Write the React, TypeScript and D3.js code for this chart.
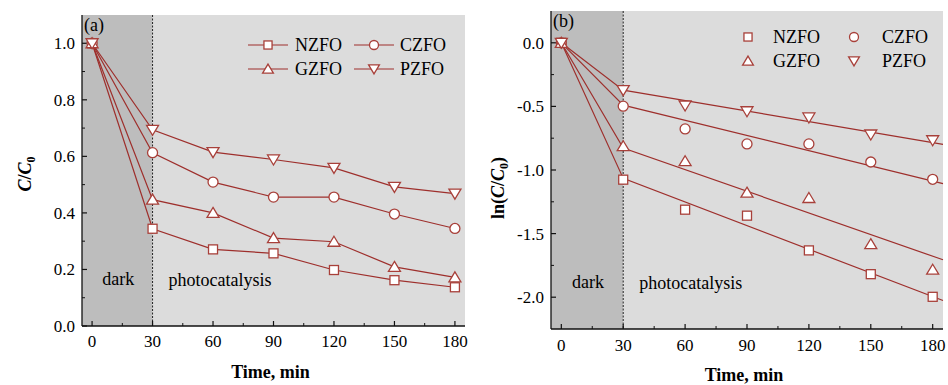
import React, { useEffect, useRef } from 'react';
import * as d3 from 'd3';

// Sampling times (min)
const times = [0, 30, 60, 90, 120, 150, 180];
const seriesNames = ['NZFO', 'CZFO', 'GZFO', 'PZFO'];
const symbols = ['square', 'circle', 'triUp', 'triDown'];

// Panel (a): C/C0
const nzfoC = [1.0, 0.344, 0.271, 0.257, 0.198, 0.162, 0.137];
const czfoC = [1.0, 0.613, 0.509, 0.456, 0.456, 0.396, 0.345];
const gzfoC = [1.0, 0.447, 0.400, 0.311, 0.298, 0.209, 0.172];
const pzfoC = [1.0, 0.694, 0.615, 0.589, 0.559, 0.492, 0.468];

// Panel (b): ln(C/C0)
const nzfoLn = [0, -1.076, -1.312, -1.359, -1.632, -1.819, -1.997];
const czfoLn = [0, -0.498, -0.677, -0.795, -0.795, -0.937, -1.073];
const gzfoLn = [0, -0.813, -0.931, -1.178, -1.220, -1.583, -1.784];
const pzfoLn = [0, -0.372, -0.493, -0.538, -0.587, -0.721, -0.766];

// Linear fit lines in panel (b): value at 30 min and at 185 min
const fitX = [30, 185];
const nzfoFit = [-1.066, -2.026];
const czfoFit = [-0.490, -1.107];
const gzfoFit = [-0.827, -1.706];
const pzfoFit = [-0.372, -0.798];

const xTicks = [0, 30, 60, 90, 120, 150, 180];
const xMinor = [15, 45, 75, 105, 135, 165];
const yTicksA = [0, 0.2, 0.4, 0.6, 0.8, 1.0];
const yMinorA = [0.1, 0.3, 0.5, 0.7, 0.9];
const yTicksB = [-2.0, -1.5, -1.0, -0.5, 0.0];
const yMinorB = [-1.75, -1.25, -0.75, -0.25];

const RED = '#9e2f2c';
const MARK = '#a8403a';
const FONT = '"Liberation Serif", "Times New Roman", serif';

const fmt1 = (v: number) => d3.format('.1f')(v).replace('\u2212', '-');

const drawSymbol = (g: any, kind: string, x: number, y: number, s = 1) => {
  const common = (el: any) => el.attr('fill', 'white').attr('stroke', MARK).attr('stroke-width', 1.3);
  if (kind === 'square') {
    common(g.append('rect').attr('x', x - 4.5 * s).attr('y', y - 4.5 * s).attr('width', 9 * s).attr('height', 9 * s));
  } else if (kind === 'circle') {
    common(g.append('circle').attr('cx', x).attr('cy', y).attr('r', 5 * s));
  } else if (kind === 'triUp') {
    common(g.append('path').attr('d', `M${x},${y - 5.5 * s}L${x + 6 * s},${y + 4.5 * s}L${x - 6 * s},${y + 4.5 * s}Z`));
  } else {
    common(g.append('path').attr('d', `M${x},${y + 5.5 * s}L${x + 6 * s},${y - 4.5 * s}L${x - 6 * s},${y - 4.5 * s}Z`));
  }
};

const App = () => {
  const ref = useRef<SVGSVGElement>(null);

  useEffect(() => {
    const svg = d3.select(ref.current);
    svg.selectAll('*').remove();

    const panels = [
      {
        label: '(a)', left: 82, right: 465, top: 15, bottom: 326,
        yDomain: [0, 1.1], yTicks: yTicksA, yMinor: yMinorA,
        data: [nzfoC, czfoC, gzfoC, pzfoC], fits: null as number[][] | null,
        ylabel: 'a', ylabelX: 31, ylabelY: 174, xTitleY: 378, tickY: 347,
        legend: { rows: [45, 69], cols: [268, 374], texts: [295, 400], lines: true },
      },
      {
        label: '(b)', left: 551, right: 943, top: 11, bottom: 329,
        yDomain: [-2.25, 0.25], yTicks: yTicksB, yMinor: yMinorB,
        data: [nzfoLn, czfoLn, gzfoLn, pzfoLn], fits: [nzfoFit, czfoFit, gzfoFit, pzfoFit],
        ylabel: 'b', ylabelX: 504, ylabelY: 188, xTitleY: 381, tickY: 351,
        legend: { rows: [37, 61], cols: [748, 854], texts: [773, 882], lines: false },
      },
    ];

    panels.forEach(p => {
      const x = d3.scaleLinear().domain([-5, 185]).range([p.left, p.right]);
      const y = d3.scaleLinear().domain(p.yDomain).range([p.bottom, p.top]);
      const g = svg.append('g').attr('font-family', FONT);

      // shaded backgrounds
      g.append('rect').attr('x', x(-5)).attr('y', p.top).attr('width', x(30) - x(-5))
        .attr('height', p.bottom - p.top).attr('fill', '#bdbdbd');
      g.append('rect').attr('x', x(30)).attr('y', p.top).attr('width', x(185) - x(30))
        .attr('height', p.bottom - p.top).attr('fill', '#dcdcdc');
      g.append('line').attr('x1', x(30)).attr('x2', x(30)).attr('y1', p.top).attr('y2', p.bottom)
        .attr('stroke', '#222').attr('stroke-width', 1).attr('stroke-dasharray', '2,1.5');

      // region labels
      g.append('text').attr('x', (x(-5) + x(30)) / 2 + 1).attr('y', p.bottom - 41)
        .attr('text-anchor', 'middle').attr('font-size', 18).text('dark');
      g.append('text').attr('x', x(30) + 16).attr('y', p.bottom - 40)
        .attr('font-size', 18).text('photocatalysis');

      // axes lines
      g.append('line').attr('x1', p.left).attr('x2', p.right).attr('y1', p.bottom).attr('y2', p.bottom)
        .attr('stroke', '#111').attr('stroke-width', 1.3);
      g.append('line').attr('x1', p.left).attr('x2', p.left).attr('y1', p.top).attr('y2', p.bottom)
        .attr('stroke', '#111').attr('stroke-width', 1.3);

      // x ticks (inward)
      xTicks.forEach(t => {
        g.append('line').attr('x1', x(t)).attr('x2', x(t)).attr('y1', p.bottom).attr('y2', p.bottom - 5)
          .attr('stroke', '#111').attr('stroke-width', 1.2);
        g.append('text').attr('x', x(t)).attr('y', p.tickY).attr('text-anchor', 'middle')
          .attr('font-size', 17).text(t);
      });
      xMinor.forEach(t => {
        g.append('line').attr('x1', x(t)).attr('x2', x(t)).attr('y1', p.bottom).attr('y2', p.bottom - 3)
          .attr('stroke', '#111').attr('stroke-width', 1);
      });

      // y ticks (inward)
      p.yTicks.forEach(t => {
        g.append('line').attr('x1', p.left).attr('x2', p.left + 5).attr('y1', y(t)).attr('y2', y(t))
          .attr('stroke', '#111').attr('stroke-width', 1.2);
        g.append('text').attr('x', p.left - 7).attr('y', y(t)).attr('dy', '0.35em').attr('text-anchor', 'end')
          .attr('font-size', 17).text(fmt1(t));
      });
      p.yMinor.forEach(t => {
        g.append('line').attr('x1', p.left).attr('x2', p.left + 3).attr('y1', y(t)).attr('y2', y(t))
          .attr('stroke', '#111').attr('stroke-width', 1);
      });

      // panel label
      g.append('text').attr('x', p.left + 2).attr('y', p.top + 16)
        .attr('font-size', 18).text(p.label);

      // axis titles
      g.append('text').attr('x', (p.left + p.right) / 2 - 3).attr('y', p.xTitleY).attr('text-anchor', 'middle')
        .attr('font-size', 18).attr('font-weight', 'bold').text('Time, min');

      const yl = g.append('text').attr('transform', `translate(${p.ylabelX},${p.ylabelY}) rotate(-90)`)
        .attr('text-anchor', 'middle').attr('font-size', 18).attr('font-weight', 'bold');
      if (p.ylabel === 'b') yl.append('tspan').text('ln(');
      yl.append('tspan').attr('font-style', 'italic').text('C');
      yl.append('tspan').text('/');
      yl.append('tspan').attr('font-style', 'italic').text('C');
      yl.append('tspan').attr('dy', 4).attr('font-size', 12).text('0');
      if (p.ylabel === 'b') yl.append('tspan').attr('dy', -4).text(')');

      // series lines
      const line = d3.line<number>().x((_, i) => x(times[i])).y(d => y(d));
      p.data.forEach((vals, si) => {
        if (p.fits) {
          const f = p.fits[si];
          const pts: [number, number][] = [[times[0], vals[0]], [fitX[0], f[0]], [fitX[1], f[1]]];
          g.append('path').attr('d', d3.line()(pts.map(d => [x(d[0]), y(d[1])]) as any))
            .attr('fill', 'none').attr('stroke', RED).attr('stroke-width', 1.2);
        } else {
          g.append('path').attr('d', line(vals)).attr('fill', 'none').attr('stroke', RED).attr('stroke-width', 1.2);
        }
      });
      // markers
      p.data.forEach((vals, si) => {
        vals.forEach((v, i) => drawSymbol(g, symbols[si], x(times[i]), y(v)));
      });

      // legend
      seriesNames.forEach((name, si) => {
        const row = p.legend.rows[Math.floor(si / 2)];
        const cx = p.legend.cols[si % 2];
        if (p.legend.lines) {
          g.append('line').attr('x1', cx - 20).attr('x2', cx + 20).attr('y1', row).attr('y2', row)
            .attr('stroke', RED).attr('stroke-width', 1.2);
        }
        drawSymbol(g, symbols[si], cx, row, 0.9);
        g.append('text').attr('x', p.legend.texts[si % 2]).attr('y', row).attr('dy', '0.35em')
          .attr('font-size', 18).text(name);
      });
    });
  }, []);

  return (
    <svg ref={ref} width={948} height={385}
      style={{ position: 'absolute', left: 0, top: 0, background: 'white' }} />
  );
};

export default App;
